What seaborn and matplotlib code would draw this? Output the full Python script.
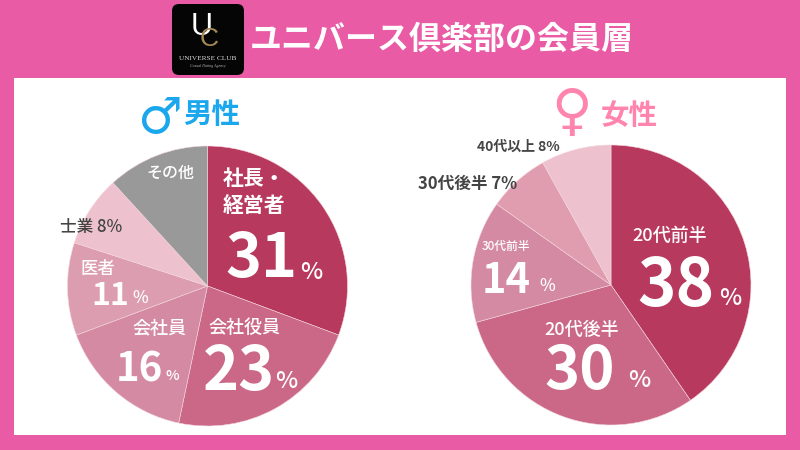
import matplotlib
matplotlib.use("Agg")
import matplotlib.pyplot as plt
from matplotlib.patches import FancyBboxPatch, Rectangle
import seaborn as sns

sns.set_theme(style="white")
plt.rcParams['font.family'] = ['Noto Sans CJK JP', 'DejaVu Sans']

title = "ユニバース倶楽部の会員層"

# slice sizes (angles, not the printed labels)
male_groups = ["社長・経営者", "会社役員", "会社員", "医者", "士業", "その他"]
male_sizes = [30.7, 22.6, 16.0, 10.7, 8.2, 11.8]
male_colors = ["#B8395E", "#CB6888", "#D48AA2", "#DC9DB0", "#EDC2CE", "#999999"]

female_groups = ["20代前半", "20代後半", "30代前半", "30代後半", "40代以上"]
female_sizes = [40.4, 30.3, 14.1, 7.1, 8.1]
female_colors = ["#B8395E", "#CB6888", "#D48AA2", "#DF9DAF", "#EDC2CE"]

PINK = "#EA5BA6"
DARK = "#444444"

fig = plt.figure(figsize=(8, 4.5), dpi=100)
fig.patch.set_facecolor(PINK)

bg = fig.add_axes([0, 0, 1, 1], zorder=0)
bg.set_xlim(0, 800)
bg.set_ylim(450, 0)
bg.axis("off")
bg.add_patch(Rectangle((14, 78), 772, 357, color="white", lw=0))
bg.add_patch(FancyBboxPatch((172, 4), 72, 71, boxstyle="round,pad=0,rounding_size=7", color="#050505", lw=0))


def draw_pie(cx, cy, r, sizes, colors):
    ax = fig.add_axes([(cx - r) / 800, (450 - cy - r) / 450, 2 * r / 800, 2 * r / 450], zorder=1)
    ax.pie(sizes, colors=sns.color_palette(colors), startangle=90, counterclock=False, radius=1,
           wedgeprops=dict(linewidth=0.4, edgecolor="#F3D5DE"))
    ax.set_xlim(-1, 1)
    ax.set_ylim(-1, 1)


draw_pie(207.5, 286, 140, male_sizes, male_colors)
draw_pie(611, 285, 140, female_sizes, female_colors)

fg = fig.add_axes([0, 0, 1, 1], zorder=3)
fg.set_xlim(0, 800)
fg.set_ylim(450, 0)
fg.axis("off")


def put(x, y, s, size, color="white", weight="bold", ha="center"):
    # Noto sits high with va=center, push it down a bit with the size
    fg.text(x, y + size * 0.1, s, fontsize=size, color=color, fontweight=weight, ha=ha, va="center")


put(442, 37, title, 23)

# logo
fg.text(202, 27, "U", fontsize=22, color="white", family="Liberation Sans", ha="center", va="center")
fg.text(209, 39, "C", fontsize=19, color="#A48A55", family="Liberation Sans", ha="center", va="center")
fg.text(208, 59, "UNIVERSE CLUB", fontsize=5.2, color="#DDDDDD", family="Liberation Serif", ha="center", va="center")
fg.text(208, 66, "Casual Dating Agency", fontsize=2.8, color="#BBBBBB", family="Liberation Serif",
        style="italic", ha="center", va="center")

# headings
fg.text(159, 119, "♂", fontsize=36, color="#1AA7EE", family="DejaVu Sans", fontweight="bold", ha="center", va="center")
put(212, 113, "男性", 20.5, "#1AA7EE")
fg.text(572, 114, "♀", fontsize=40, color="#FF85AE", family="DejaVu Sans", fontweight="bold", ha="center", va="center")
put(629, 114, "女性", 20.5, "#FF85AE")

# male labels
put(223, 177, "社長・", 15, ha="left")
put(223, 204, "経営者", 15, ha="left")
put(261, 255, "31", 44)
put(311, 271, "%", 17, weight="medium")
put(244, 327, "会社役員", 13, weight="medium")
put(239, 368, "23", 44)
put(286, 380, "%", 17, weight="medium")
put(159, 328, "会社員", 13, weight="medium")
put(139, 367, "16", 29)
put(172, 375, "%", 10.5, weight="medium")
put(98, 268, "医者", 12.5, weight="medium")
put(110, 294, "11", 23)
put(140, 297, "%", 12, weight="medium")
put(91, 226, "士業 8%", 12, DARK, "medium")
put(170, 172, "その他", 11.5, weight="medium")

# female labels
put(670, 235, "20代前半", 13, weight="medium")
put(676, 282, "38", 47)
put(730, 297, "%", 17, weight="medium")
put(582, 329, "20代後半", 13, weight="medium")
put(580, 368, "30", 43)
put(639, 379, "%", 17, weight="medium")
put(506, 246, "30代前半", 8.5, weight="medium")
put(506, 278, "14", 30)
put(547, 285, "%", 12, weight="medium")
put(468, 183, "30代後半 7%", 12, DARK)
put(518, 146, "40代以上 8%", 10, DARK)

fig.savefig("out.png", dpi=100, facecolor=PINK)
